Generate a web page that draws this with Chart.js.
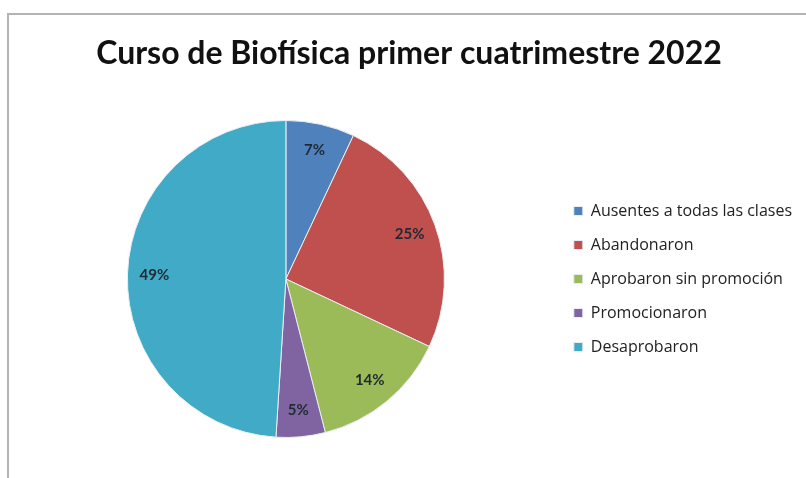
<!DOCTYPE html>
<html>
<head>
<meta charset="utf-8">
<script src="https://cdn.jsdelivr.net/npm/chart.js@4/dist/chart.umd.min.js"></script>
<style>
  body { margin: 0; background: #fff; }
  #frame {
    position: absolute; left: 7px; top: 13px; width: 799px; height: 465px;
    border-left: 2px solid #b4b4b4; border-top: 2px solid #b4b4b4;
  }
  #wrap { position: absolute; left: 0; top: 0; width: 806px; height: 478px; }
</style>
</head>
<body>
<div id="frame"></div>
<div id="wrap"><canvas id="pieChart" width="806" height="478"></canvas></div>
<script>
// datos del gráfico
const categorias = ['Ausentes a todas las clases', 'Abandonaron', 'Aprobaron sin promoción', 'Promocionaron', 'Desaprobaron'];
const porcentajes = [7, 25, 14, 5, 49];
const colores = ['#4F81BD', '#C0504D', '#9BBB59', '#8064A2', '#41ABC7'];
const titulo = 'Curso de Biofísica primer cuatrimestre 2022';

// etiquetas de porcentaje dentro de cada sector
const etiquetasPlugin = {
  id: 'etiquetas',
  afterDatasetsDraw(chart) {
    const ctx = chart.ctx;
    const meta = chart.getDatasetMeta(0);
    ctx.save();
    ctx.font = 'bold 15px Lato';
    ctx.fillStyle = '#1f2a33';
    ctx.textAlign = 'center';
    ctx.textBaseline = 'middle';
    meta.data.forEach((arc, i) => {
      const p = arc.getProps(['x', 'y', 'startAngle', 'endAngle', 'outerRadius'], true);
      const mid = (p.startAngle + p.endAngle) / 2;
      const r = p.outerRadius * 0.83;
      ctx.fillText(porcentajes[i] + '%', p.x + Math.cos(mid) * r, p.y + Math.sin(mid) * r);
    });
    ctx.restore();
  }
};

new Chart(document.getElementById('pieChart'), {
  type: 'pie',
  data: {
    labels: categorias,
    datasets: [{
      data: porcentajes,
      backgroundColor: colores,
      borderColor: '#e9eef3',
      borderWidth: 1
    }]
  },
  options: {
    responsive: false,
    animation: false,
    layout: { padding: { left: 16, right: 4, top: 0, bottom: 40 } },
    plugins: {
      title: {
        display: true,
        text: titulo,
        color: '#111',
        font: { family: 'Lato', size: 32, weight: 'bold' },
        padding: { top: 34, bottom: 47.6 }
      },
      legend: {
        position: 'right',
        fullSize: false,
        labels: {
          boxWidth: 9,
          boxHeight: 9,
          padding: 18,
          color: '#222',
          font: { family: 'Open Sans', size: 16 }
        }
      },
      tooltip: { enabled: false }
    }
  },
  plugins: [etiquetasPlugin]
});
</script>
</body>
</html>
